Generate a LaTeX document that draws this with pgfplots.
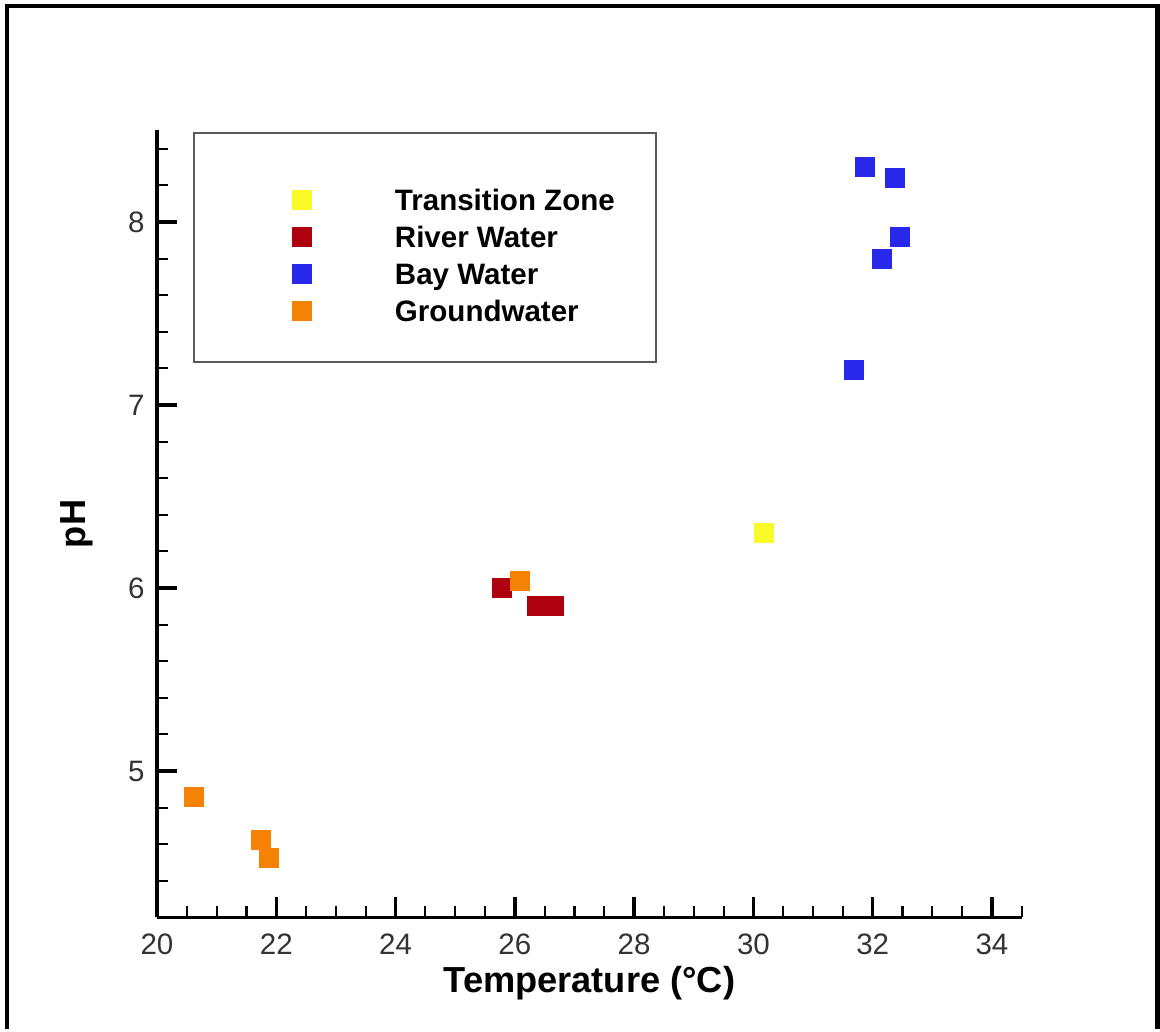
\documentclass[border=0pt]{standalone}
\usepackage{fontspec}
\setmainfont{Liberation Sans}
\usepackage{pgfplots}
\pgfplotsset{compat=1.18}

\definecolor{tzyellow}{RGB}{250,250,40}
\definecolor{riverred}{RGB}{175,0,15}
\definecolor{baublue}{RGB}{40,40,235}
\definecolor{gworange}{RGB}{245,130,5}

\begin{document}
\begin{tikzpicture}
\begin{axis}[
  x=0.5964cm, y=1.83cm,
  xmin=20, xmax=34.5, ymin=4.2, ymax=8.5,
  axis x line=bottom, axis y line=left,
  axis line style={-, line width=1.1pt},
  tick align=inside,
  xtick={20,22,...,34}, ytick={5,6,7,8},
  minor xtick={20.5,21,...,34.5},
  minor ytick={4.4,4.6,...,8.4},
  major tick length=0.2cm, minor tick length=0.11cm,
  every major tick/.append style={line width=1pt, black},
  every minor tick/.append style={line width=0.6pt, black},
  tick label style={font=\fontsize{8.4}{10}\selectfont, text=black!80},
  xticklabel style={yshift=-1.2pt},
  /pgf/number format/assume math mode=true,
  xlabel={Temperature (°C)}, ylabel={pH},
  label style={font=\fontsize{10.3}{12}\selectfont\bfseries},
  xlabel style={at={(axis description cs:0.5,-0.0833)}, anchor=center},
  ylabel style={at={(axis description cs:-0.0928,0.5)}, anchor=center},
  clip=false,
  legend style={at={(0.04276,0.9351)}, anchor=north west, draw=none, fill=none,
    inner sep=0pt, outer sep=0pt, cells={anchor=west},
    nodes={inner sep=0pt, text depth=0pt},
    font=\fontsize{8.4}{10}\selectfont\bfseries},
  legend image code/.code={
    \pgfpathrectangle{\pgfpoint{-1.08cm}{-0.185cm}}{\pgfpoint{2.01cm}{0.37cm}}
    \pgfusepath{use as bounding box}
    \draw[#1] plot coordinates {(0cm,0cm)};
  },
  mark size=2.7pt,
]
\draw[black!65, line width=0.7pt] (axis cs:20.620,7.235) rectangle (axis cs:28.367,8.486);

\addplot[only marks, mark=square*, color=tzyellow, mark options={line width=0.3pt}]
  coordinates {(30.17,6.30)};
\addlegendentry{Transition Zone\hspace*{0.39cm}}

\addplot[only marks, mark=square*, color=riverred, mark options={line width=0.3pt}]
  coordinates {(25.79,6.00) (26.38,5.90) (26.66,5.90)};
\addlegendentry{River Water}

\addplot[only marks, mark=square*, color=baublue, mark options={line width=0.3pt}]
  coordinates {(31.87,8.30) (32.37,8.24) (32.45,7.92) (32.16,7.80) (31.69,7.19)};
\addlegendentry{Bay Water}

\addplot[only marks, mark=square*, color=gworange, mark options={line width=0.3pt}]
  coordinates {(26.08,6.04) (20.62,4.86) (21.75,4.625) (21.88,4.525)};
\addlegendentry{Groundwater}

\draw[line width=1.2pt] (axis cs:17.485,3.590) -- (axis cs:17.485,9.180)
  -- (axis cs:36.775,9.180) -- (axis cs:36.775,3.590);
\path (axis cs:17.368,3.590) rectangle (axis cs:36.817,9.213);
\end{axis}
\end{tikzpicture}
\end{document}
